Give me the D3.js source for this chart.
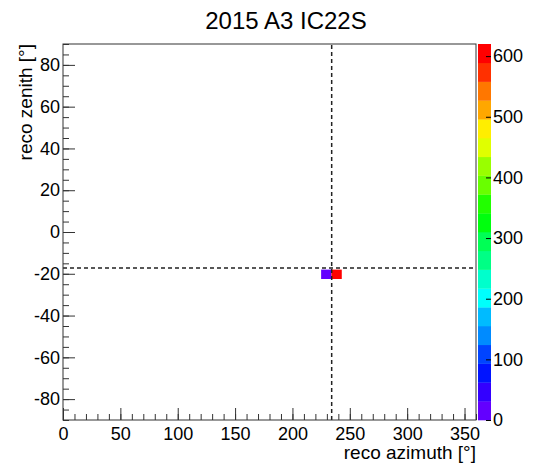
<!DOCTYPE html>
<html>
<head>
<meta charset="utf-8">
<script src="https://cdn.jsdelivr.net/npm/d3@7"></script>
<style>
  body { margin: 0; background: #fff; }
  svg { display: block; font-family: "Liberation Sans", Arial, Helvetica, sans-serif; }
</style>
</head>
<body>
<svg id="chart" width="534" height="465"></svg>
<script>
// Histogram binning (40 x 40 bins over the full sky)
const azimuthRange = [0, 360];
const zenithRange = [-90, 90];
const azimuthBinWidth = 9;
const zenithBinWidth = 4.5;

// Filled bins: lower bin edges and counts
const cellAzimuth = [225, 234];
const cellZenith = [-22.5, -22.5];
const cellCounts = [18, 620];

// Source position marker
const markerAzimuth = 234.2;
const markerZenith = -17.2;

// Axis ticks
const xMajorTicks = [0, 50, 100, 150, 200, 250, 300, 350];
const yMajorTicks = [-80, -60, -40, -20, 0, 20, 40, 60, 80];
const zMajorTicks = [0, 100, 200, 300, 400, 500, 600];
const zRange = [0, 620];
const zLevels = 20;

const title = "2015 A3 IC22S";
const xTitle = "reco azimuth [°]";
const yTitle = "reco zenith [°]";

const frame = { left: 63, right: 476, top: 44, bottom: 420 };
const bar = { left: 478, right: 491 };
const labelSize = 18;
const axisTitleSize = 19;

const svg = d3.select("#chart");

const x = d3.scaleLinear().domain(azimuthRange).range([frame.left, frame.right]);
const y = d3.scaleLinear().domain(zenithRange).range([frame.bottom, frame.top]);
const z = d3.scaleLinear().domain(zRange).range([frame.bottom, frame.top]);

// "Pretty" rainbow palette: 50 hues from violet to red, sampled per contour level
const paletteSize = 50;
function paletteColor(i) {
  const hue = 280 - (i + 1) * (280 / paletteSize);
  return d3.hsl(hue, 1, 0.5).formatHex();
}
function levelColor(level) {
  const idx = Math.floor((level + 0.99) * paletteSize / zLevels);
  return paletteColor(Math.min(idx, paletteSize - 1));
}
function valueColor(v) {
  let level = Math.floor(0.01 + (v - zRange[0]) * zLevels / (zRange[1] - zRange[0]));
  level = Math.min(level, zLevels - 1);
  return levelColor(level);
}

// Histogram cells
const cells = cellAzimuth.map((a, i) => ({ az: a, ze: cellZenith[i], n: cellCounts[i] }));
svg.append("g").selectAll("rect").data(cells).join("rect")
  .attr("x", d => x(d.az))
  .attr("y", d => y(d.ze + zenithBinWidth))
  .attr("width", d => x(d.az + azimuthBinWidth) - x(d.az))
  .attr("height", d => y(d.ze) - y(d.ze + zenithBinWidth))
  .attr("fill", d => valueColor(d.n));

// Marker cross-hair
const dash = "4,3";
svg.append("line")
  .attr("x1", x(azimuthRange[0])).attr("x2", x(azimuthRange[1]))
  .attr("y1", y(markerZenith)).attr("y2", y(markerZenith))
  .attr("stroke", "#222").attr("stroke-width", 1.5).attr("stroke-dasharray", dash);
svg.append("line")
  .attr("x1", x(markerAzimuth)).attr("x2", x(markerAzimuth))
  .attr("y1", y(zenithRange[0])).attr("y2", y(zenithRange[1]))
  .attr("stroke", "#222").attr("stroke-width", 1.5).attr("stroke-dasharray", dash);

// Axes (ticks point into the frame)
const axisColor = "#333";
function styleAxis(g) {
  g.select(".domain").remove();
  g.selectAll(".tick line").attr("stroke", axisColor);
  g.selectAll(".tick text").attr("fill", "#000").style("font-size", labelSize + "px")
    .style("font-family", "'Liberation Sans', Arial, sans-serif")
    .text(function () { return this.textContent.replace("−", "-"); });
}

const xMinor = d3.range(azimuthRange[0], azimuthRange[1] + 0.001, 10);
svg.append("g").attr("transform", `translate(0,${frame.bottom})`)
  .call(d3.axisBottom(x).tickValues(xMinor).tickSize(-6).tickFormat(""))
  .call(styleAxis);
svg.append("g").attr("transform", `translate(0,${frame.bottom})`)
  .call(d3.axisBottom(x).tickValues(xMajorTicks).tickSize(-12).tickPadding(7).tickFormat(d3.format("d")))
  .call(styleAxis);

const yMinor = d3.range(zenithRange[0], zenithRange[1] + 0.001, 5);
svg.append("g").attr("transform", `translate(${frame.left},0)`)
  .call(d3.axisLeft(y).tickValues(yMinor).tickSize(-6).tickFormat(""))
  .call(styleAxis);
svg.append("g").attr("transform", `translate(${frame.left},0)`)
  .call(d3.axisLeft(y).tickValues(yMajorTicks).tickSize(-12).tickPadding(3).tickFormat(d3.format("d")))
  .call(styleAxis);

// Frame
svg.append("rect")
  .attr("x", frame.left).attr("y", frame.top)
  .attr("width", frame.right - frame.left).attr("height", frame.bottom - frame.top)
  .attr("fill", "none").attr("stroke", axisColor).attr("stroke-width", 1);

// Colour bar
const levelWidth = (zRange[1] - zRange[0]) / zLevels;
svg.append("g").selectAll("rect").data(d3.range(zLevels)).join("rect")
  .attr("x", bar.left)
  .attr("y", d => z(zRange[0] + (d + 1) * levelWidth))
  .attr("width", bar.right - bar.left)
  .attr("height", d => z(zRange[0] + d * levelWidth) - z(zRange[0] + (d + 1) * levelWidth) + 0.3)
  .attr("fill", d => levelColor(d));
svg.append("g").attr("transform", `translate(${bar.right},0)`)
  .call(d3.axisRight(z).tickValues(zMajorTicks).tickSize(-5).tickPadding(2).tickFormat(d3.format("d")))
  .call(styleAxis)
  .call(g => g.selectAll(".tick line").attr("stroke", "#000"));

// Titles
svg.append("text").attr("x", 286).attr("y", 29).attr("text-anchor", "middle")
  .style("font-size", "24px").text(title);
svg.append("text").attr("x", frame.right).attr("y", 459).attr("text-anchor", "end")
  .style("font-size", axisTitleSize + "px").text(xTitle);
svg.append("text").attr("transform", `translate(32,${frame.top}) rotate(-90)`)
  .attr("text-anchor", "end").style("font-size", axisTitleSize + "px").text(yTitle);
</script>
</body>
</html>
